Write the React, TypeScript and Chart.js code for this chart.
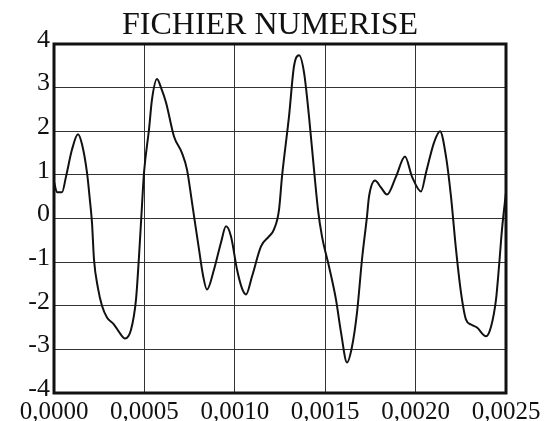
import React, { useEffect, useRef } from "react";
import { Chart, registerables } from "chart.js";

Chart.register(...registerables);

const title = "FICHIER NUMERISE";

// time in microseconds
const timeUs = [
  0, 16.6, 44.2, 66.4, 99.6, 132.7, 154.9, 182.5, 199.1, 210.2, 221.2, 243.4,
  265.5, 293.1, 331.9, 359.5, 392.7, 425.9, 453.5, 470.1, 486.7, 497.8, 525.4,
  542.0, 569.7, 591.8, 619.5, 663.7, 708.0, 735.6, 763.3, 785.4, 802.0, 824.1,
  846.2, 885.0, 923.7, 951.3, 979.0, 1012.2, 1039.8, 1062.0, 1095.1, 1144.9,
  1189.2, 1216.8, 1244.5, 1261.1, 1299.8, 1327.4, 1355.1, 1382.8, 1410.4,
  1438.1, 1460.2, 1482.3, 1521.0, 1559.7, 1587.4, 1620.6, 1648.2, 1675.9,
  1703.5, 1731.2, 1742.3, 1775.5, 1808.6, 1841.8, 1891.6, 1941.4, 1980.1,
  2029.9, 2057.5, 2101.8, 2135.0, 2168.2, 2195.8, 2223.5, 2251.1, 2278.8,
  2306.4, 2339.6, 2389.4, 2417.1, 2444.7, 2461.3, 2477.9, 2500,
];

const signal = [
  0.85, 0.6, 0.6, 0.96, 1.58, 1.93, 1.7, 1.05, 0.4, -0.1, -0.94, -1.6,
  -2.0, -2.27, -2.43, -2.6, -2.75, -2.55, -1.86, -0.87, 0.3, 1.05, 2.04,
  2.73, 3.2, 3.0, 2.66, 1.88, 1.5, 1.12, 0.37, -0.25, -0.71, -1.3,
  -1.63, -1.17, -0.55, -0.18, -0.41, -1.17, -1.6, -1.74, -1.33, -0.64,
  -0.41, -0.25, 0.2, 0.96, 2.34, 3.49, 3.74, 3.35, 2.34,
  1.12, 0.2, -0.41, -1.1, -1.86, -2.61, -3.3, -2.94, -2.16,
  -0.94, 0.05, 0.5, 0.87, 0.71, 0.55, 0.96, 1.42, 0.96,
  0.62, 1.05, 1.74, 2.0, 1.42, 0.5, -0.71, -1.7, -2.32,
  -2.43, -2.5, -2.7, -2.48, -1.86, -1.1, -0.25, 0.6,
];

const xTicks = [0, 0.0005, 0.001, 0.0015, 0.002, 0.0025];
const yTicks = [-4, -3, -2, -1, 0, 1, 2, 3, 4];

const FONT = "'Liberation Serif', 'Times New Roman', serif";

export default function App() {
  const ref = useRef<HTMLCanvasElement | null>(null);

  useEffect(() => {
    document.body.style.margin = "0";
    const canvas = ref.current;
    if (!canvas) return;
    const points = timeUs.map((t, i) => ({ x: t / 1e6, y: signal[i] }));

    const framePlugin = {
      id: "frame",
      afterDraw(chart: any) {
        const { ctx, chartArea } = chart;
        ctx.save();
        ctx.strokeStyle = "#111";
        ctx.lineWidth = 3;
        ctx.strokeRect(
          chartArea.left,
          chartArea.top,
          chartArea.right - chartArea.left,
          chartArea.bottom - chartArea.top
        );
        ctx.fillStyle = "#111";
        ctx.font = `32px ${FONT}`;
        ctx.textAlign = "center";
        ctx.textBaseline = "alphabetic";
        ctx.fillText(title, 270, 34);
        ctx.restore();
      },
    };

    const chart = new Chart(canvas, {
      type: "line",
      data: {
        datasets: [
          {
            data: points,
            borderColor: "#111",
            borderWidth: 2,
            pointRadius: 0,
            tension: 0.4,
            cubicInterpolationMode: "monotone",
            fill: false,
          },
        ],
      },
      options: {
        animation: false,
        responsive: false,
        maintainAspectRatio: false,
        layout: { padding: { left: 0, right: 43, top: 44, bottom: 0 } },
        plugins: {
          legend: { display: false },
          tooltip: { enabled: false },
          title: { display: false },
        },
        scales: {
          x: {
            type: "linear",
            min: xTicks[0],
            max: xTicks[xTicks.length - 1],
            afterFit(scale: any) {
              scale.height = 28;
            },
            afterBuildTicks(scale: any) {
              scale.ticks = xTicks.map((v) => ({ value: v }));
            },
            ticks: {
              color: "#111",
              font: { family: FONT, size: 25 },
              padding: 4,
              maxRotation: 0,
              autoSkip: false,
              callback: (v: any) => Number(v).toFixed(4).replace(".", ","),
            },
            grid: { color: "#333", lineWidth: 1, drawTicks: false },
            border: { display: false },
          },
          y: {
            type: "linear",
            min: yTicks[0],
            max: yTicks[yTicks.length - 1],
            afterFit(scale: any) {
              scale.width = 54;
            },
            afterBuildTicks(scale: any) {
              scale.ticks = yTicks.map((v) => ({ value: v }));
            },
            ticks: {
              color: "#111",
              font: { family: FONT, size: 26 },
              padding: 4,
              labelOffset: -4,
              autoSkip: false,
              callback: (v: any) => String(v),
            },
            grid: { color: "#333", lineWidth: 1, drawTicks: false },
            border: { display: false },
          },
        },
      },
      plugins: [framePlugin],
    } as any);

    return () => chart.destroy();
  }, []);

  return (
    <div style={{ width: 549, height: 421 }}>
      <canvas ref={ref} width={549} height={421} style={{ display: "block" }} />
    </div>
  );
}
